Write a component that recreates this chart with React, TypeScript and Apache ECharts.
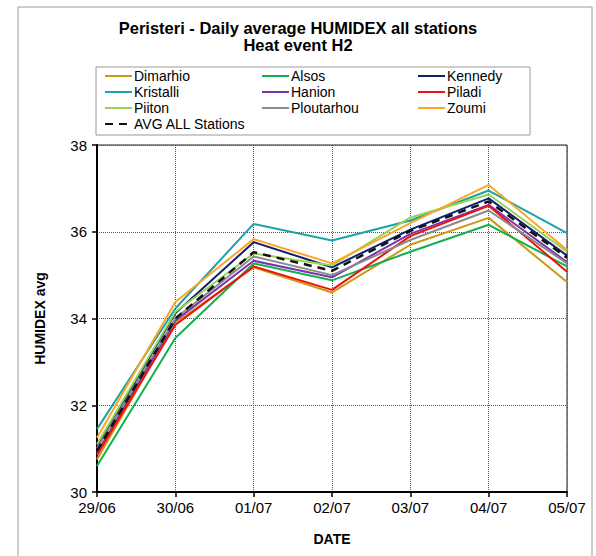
import React, { useEffect, useRef } from "react";
import * as echarts from "echarts";

const dates = ["29/06", "30/06", "01/07", "02/07", "03/07", "04/07", "05/07"];
const yTicks = [30, 32, 34, 36, 38];

const dimarhio = [30.75, 33.9, 35.18, 34.6, 35.7, 36.32, 34.84];
const alsos = [30.6, 33.55, 35.27, 34.88, 35.54, 36.16, 35.2];
const kennedy = [31.05, 34.12, 35.76, 35.18, 36.05, 36.77, 35.45];
const kristalli = [31.45, 34.23, 36.18, 35.8, 36.26, 36.95, 35.97];
const hanion = [30.9, 33.95, 35.33, 34.95, 35.95, 36.62, 35.3];
const piladi = [30.85, 33.85, 35.2, 34.66, 35.9, 36.6, 35.08];
const piiton = [31.1, 34.15, 35.5, 35.22, 36.33, 36.86, 35.54];
const ploutarhou = [31.0, 34.0, 35.43, 35.0, 35.81, 36.49, 35.27];
const zoumi = [31.25, 34.38, 35.83, 35.27, 36.2, 37.08, 35.58];
const avgAll = [30.95, 34.0, 35.53, 35.1, 36.02, 36.7, 35.4];

const seriesNames = [
  "Dimarhio", "Alsos", "Kennedy", "Kristalli", "Hanion", "Piladi",
  "Piiton", "Ploutarhou", "Zoumi", "AVG ALL Stations",
];
const seriesData = [dimarhio, alsos, kennedy, kristalli, hanion, piladi, piiton, ploutarhou, zoumi, avgAll];
const seriesColors = [
  "#C99A14", "#12B04C", "#0E1F6E", "#1AA3A6", "#7A35B0", "#F01010",
  "#96D455", "#8A8A8A", "#FFA526", "#111111",
];

const legendCols = [
  ["Dimarhio", "Kristalli", "Piiton", "AVG ALL Stations"],
  ["Alsos", "Hanion", "Ploutarhou"],
  ["Kennedy", "Piladi", "Zoumi"],
];
const legendLefts = [104, 261, 417];

export default function App() {
  const ref = useRef<HTMLDivElement>(null);
  useEffect(() => {
    document.body.style.margin = "0";
    const chart = echarts.init(ref.current!, undefined, { renderer: "svg" });
    const font = "Arial, 'Liberation Sans', sans-serif";
    const option = {
      animation: false,
      backgroundColor: "#ffffff",
      textStyle: { fontFamily: font },
      title: {
        text: "Peristeri - Daily average HUMIDEX all stations\nHeat event H2",
        left: "center",
        top: 14,
        textStyle: { fontFamily: font, fontSize: 16.5, fontWeight: "bold", color: "#000", lineHeight: 17 },
      },
      graphic: [
        {
          type: "rect",
          shape: { x: 18, y: 7, width: 574, height: 560 },
          style: { fill: "none", stroke: "#9a9a9a", lineWidth: 1 },
          silent: true,
        },
        {
          type: "rect",
          shape: { x: 96, y: 67, width: 434, height: 68 },
          style: { fill: "none", stroke: "#9a9a9a", lineWidth: 1 },
          silent: true,
        },
      ],
      legend: legendCols.map((col, i) => ({
        data: col,
        orient: "vertical",
        left: legendLefts[i],
        top: 69,
        itemWidth: 27,
        itemHeight: 10,
        itemGap: 2,
        itemStyle: { opacity: 0 },
        textStyle: { fontFamily: font, fontSize: 14, color: "#000", padding: [0, 0, 0, -3] },
        padding: 0,
      })),
      grid: {
        left: 97,
        right: 29,
        top: 145,
        bottom: 64,
        show: true,
        borderColor: "#222",
        borderWidth: 1,
      },
      xAxis: {
        type: "category",
        data: dates,
        boundaryGap: false,
        name: "DATE",
        nameLocation: "middle",
        nameGap: 40,
        nameTextStyle: { fontFamily: font, fontSize: 14, fontWeight: "bold", color: "#000" },
        axisLine: { lineStyle: { color: "#000", width: 2 } },
        axisTick: { show: true, length: 5, lineStyle: { color: "#000", width: 1.5 } },
        axisLabel: { fontFamily: font, fontSize: 15, color: "#000", margin: 8 },
        splitLine: { show: true, lineStyle: { type: "dotted", color: "#555", width: 1 } },
      },
      yAxis: {
        type: "value",
        min: 30,
        max: 38,
        interval: 2,
        name: "HUMIDEX avg",
        nameLocation: "middle",
        nameGap: 50,
        nameTextStyle: { fontFamily: font, fontSize: 14, fontWeight: "bold", color: "#000" },
        axisLine: { show: true, lineStyle: { color: "#000", width: 2 } },
        axisTick: { show: true, length: 5, lineStyle: { color: "#000", width: 1.5 } },
        axisLabel: {
          fontFamily: font,
          fontSize: 15,
          color: "#000",
          margin: 10,
          formatter: (v: number) => (yTicks.includes(v) ? String(v) : ""),
        },
        splitLine: { show: true, lineStyle: { type: "dotted", color: "#555", width: 1 } },
      },
      series: seriesNames.map((name, i) => ({
        name,
        type: "line",
        data: seriesData[i],
        symbol: "none",
        color: seriesColors[i],
        z: name === "AVG ALL Stations" ? 5 : 2,
        lineStyle: {
          color: seriesColors[i],
          width: name === "AVG ALL Stations" ? 2.5 : 2,
          type: name === "AVG ALL Stations" ? [8, 6] : "solid",
        },
      })),
    };
    chart.setOption(option as any);
    return () => chart.dispose();
  }, []);
  return <div ref={ref} style={{ width: 596, height: 556 }} />;
}
